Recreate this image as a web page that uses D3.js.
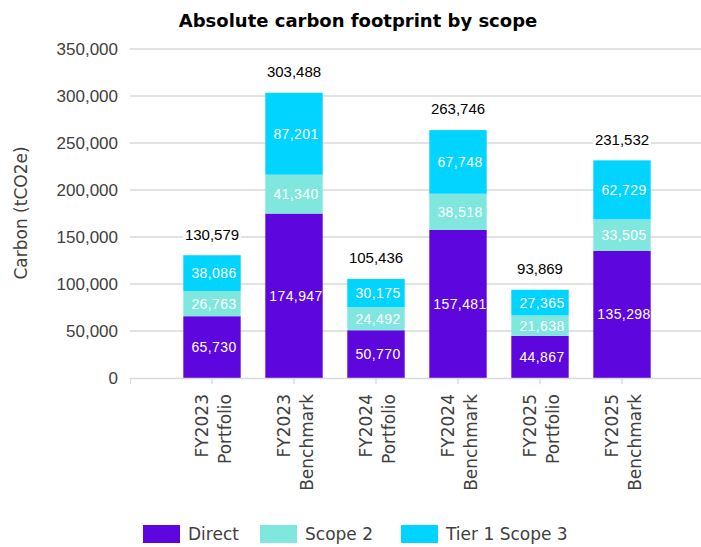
<!DOCTYPE html>
<html>
<head>
<meta charset="utf-8">
<script src="https://cdn.jsdelivr.net/npm/d3@7"></script>
<style>
  body { margin: 0; background: #fff; }
  text { font-family: 'DejaVu Sans', sans-serif; }
  .num { font-family: 'Liberation Sans', Arial, sans-serif; }
</style>
</head>
<body>
<div id="chart"></div>
<script>
let categories = ['FY2023 Portfolio', 'FY2023 Benchmark', 'FY2024 Portfolio', 'FY2024 Benchmark', 'FY2025 Portfolio', 'FY2025 Benchmark']
let direct = [65730, 174947, 50770, 157481, 44867, 135298]
let scope2 = [26763, 41340, 24492, 38518, 21638, 33505]
let tier1Scope3 = [38086, 87201, 30175, 67748, 27365, 62729]
let totals = [130579, 303488, 105436, 263746, 93869, 231532]
let seriesNames = ['Direct', 'Scope 2', 'Tier 1 Scope 3']
let yTicks = [0, 50000, 100000, 150000, 200000, 250000, 300000, 350000]

let colors = ['#5d06de', '#80e7df', '#00d4ff']

let width = 701
let height = 547

let svg = d3
  .select('#chart')
  .append('svg')
  .attr('width', width)
  .attr('height', height)

let yScale = d3.scaleLinear().domain([0, 350000]).range([378, 49])
let xScale = d3
  .scaleBand()
  .domain(categories)
  .range([171, 663])
  .paddingInner(0.3)
  .paddingOuter(0.15)

let fmt = d3.format(',')

// title
svg
  .append('text')
  .attr('x', 358)
  .attr('y', 27)
  .attr('text-anchor', 'middle')
  .attr('font-size', 18)
  .attr('font-weight', 'bold')
  .attr('fill', '#000')
  .text('Absolute carbon footprint by scope')

// gridlines
svg
  .append('g')
  .selectAll('line')
  .data(yTicks.slice(1))
  .enter()
  .append('line')
  .attr('x1', 130)
  .attr('x2', 701)
  .attr('y1', d => yScale(d))
  .attr('y2', d => yScale(d))
  .attr('stroke', '#d9d9d9')
  .attr('stroke-width', 1.3)

// y axis labels
let yAxis = d3
  .axisLeft(yScale)
  .tickValues(yTicks)
  .tickFormat(fmt)
  .tickSize(0)
  .tickPadding(12)

svg
  .append('g')
  .attr('transform', 'translate(130,0)')
  .call(yAxis)
  .call(g => g.select('.domain').remove())
  .selectAll('text')
  .attr('class', 'num')
  .attr('font-size', 17)
  .attr('fill', '#404040')

svg
  .append('text')
  .attr('transform', 'translate(27,213) rotate(-90)')
  .attr('text-anchor', 'middle')
  .attr('font-size', 17)
  .attr('fill', '#404040')
  .text('Carbon (tCO2e)')

// stacked bars
let rows = categories.map((c, i) => ({
  category: c,
  Direct: direct[i],
  'Scope 2': scope2[i],
  'Tier 1 Scope 3': tier1Scope3[i]
}))
let stacked = d3.stack().keys(seriesNames)(rows)

let layers = svg
  .append('g')
  .selectAll('g')
  .data(stacked)
  .enter()
  .append('g')
  .attr('fill', (d, i) => colors[i])

layers
  .selectAll('rect')
  .data(d => d)
  .enter()
  .append('rect')
  .attr('x', d => xScale(d.data.category))
  .attr('width', xScale.bandwidth())
  .attr('y', d => yScale(d[1]))
  .attr('height', d => yScale(d[0]) - yScale(d[1]))

layers
  .selectAll('text')
  .data(d => d)
  .enter()
  .append('text')
  .attr('class', 'num')
  .attr('x', d => xScale(d.data.category) + xScale.bandwidth() / 2 + 2)
  .attr('y', d => (yScale(d[0]) + yScale(d[1])) / 2)
  .attr('dy', '0.36em')
  .attr('text-anchor', 'middle')
  .attr('font-size', 14)
  .attr('letter-spacing', 0.4)
  .attr('fill', '#fff')
  .text(d => fmt(d[1] - d[0]))

// totals, with white box behind like the original
let totalG = svg
  .append('g')
  .selectAll('g')
  .data(categories)
  .enter()
  .append('g')
  .attr('transform', (d, i) => {
    let top = yScale(d3.sum([direct[i], scope2[i], tier1Scope3[i]]))
    return `translate(${xScale(d) + xScale.bandwidth() / 2},${top - 21})`
  })

totalG
  .append('rect')
  .attr('x', -29)
  .attr('y', -9)
  .attr('width', 58)
  .attr('height', 18)
  .attr('fill', '#fff')

totalG
  .append('text')
  .attr('class', 'num')
  .attr('dy', '0.36em')
  .attr('text-anchor', 'middle')
  .attr('font-size', 15)
  .attr('fill', '#000')
  .text((d, i) => fmt(totals[i]))

// x axis
svg
  .append('line')
  .attr('x1', 130)
  .attr('x2', 701)
  .attr('y1', yScale(0) + 0.5)
  .attr('y2', yScale(0) + 0.5)
  .attr('stroke', '#d9d9d9')
  .attr('stroke-width', 1.5)

svg
  .append('line')
  .attr('x1', 130.5)
  .attr('x2', 130.5)
  .attr('y1', 379)
  .attr('y2', 384)
  .attr('stroke', '#d9d9d9')
  .attr('stroke-width', 1.3)

let xg = svg
  .append('g')
  .selectAll('g')
  .data(categories)
  .enter()
  .append('g')
  .attr('transform', d => `translate(${xScale(d) + xScale.bandwidth() / 2},0)`)

xg.append('line')
  .attr('y1', 379)
  .attr('y2', 384)
  .attr('stroke', '#d9d9d9')
  .attr('stroke-width', 1.3)

let xt = xg
  .append('text')
  .attr('transform', 'translate(0,394) rotate(-90)')
  .attr('text-anchor', 'end')
  .attr('font-size', 17)
  .attr('fill', '#404040')

xt.append('tspan')
  .attr('x', 0)
  .attr('y', -4)
  .text(d => d.split(' ')[0])
xt.append('tspan')
  .attr('x', 0)
  .attr('y', 19)
  .text(d => d.split(' ')[1])

// legend
let legendX = [143, 260, 401]
let legend = svg
  .append('g')
  .selectAll('g')
  .data(seriesNames)
  .enter()
  .append('g')
  .attr('transform', (d, i) => `translate(${legendX[i]},525)`)

legend
  .append('rect')
  .attr('width', 37)
  .attr('height', 18)
  .attr('fill', (d, i) => colors[i])

legend
  .append('text')
  .attr('x', 45)
  .attr('y', 15)
  .attr('font-size', 17)
  .attr('fill', '#404040')
  .text(d => d)
</script>
</body>
</html>
